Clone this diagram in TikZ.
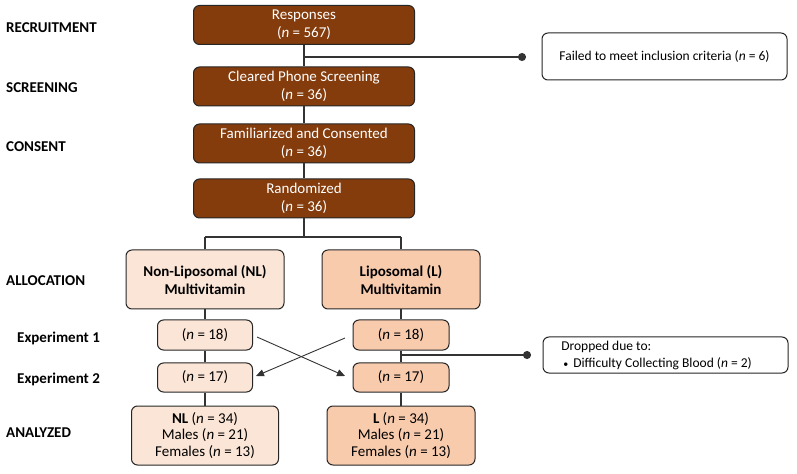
\documentclass[tikz,border=0pt]{standalone}
\usepackage{fontspec}
\setmainfont{Carlito}
\usetikzlibrary{arrows.meta}
\definecolor{brownD}{HTML}{843C0C}
\definecolor{nlc}{HTML}{FBE5D6}
\definecolor{lc}{HTML}{F8CBAD}
\definecolor{linec}{HTML}{333333}
\newcommand{\bodyfont}{\fontsize{15bp}{18bp}\selectfont}
\newcommand{\sidefont}{\fontsize{13.5bp}{17bp}\selectfont}
\newcommand{\capfont}{\fontsize{15bp}{17bp}\selectfont\bfseries}
\newcommand{\nn}{\textit{n}}
\begin{document}
\begin{tikzpicture}[x=1bp,y=-1bp,
  box/.style={rounded corners=6bp, draw=black!85, line width=1bp, align=center, inner sep=0pt, font=\bodyfont},
  dark/.style={box, fill=brownD, text=white, minimum width=221bp, minimum height=39bp},
  nlb/.style={box, fill=nlc},
  lb/.style={box, fill=lc},
  whitebox/.style={box, fill=white, font=\sidefont},
  conn/.style={draw=linec, line width=1.4bp},
  dotconn/.style={conn, -{Circle[length=8bp]}},
  cross/.style={draw=linec, line width=0.9bp, -{Triangle[length=8bp,width=7bp]}},
  stage/.style={anchor=west, font=\capfont, inner sep=0pt},
  exper/.style={anchor=west, font=\bodyfont\bfseries, inner sep=0pt}
]
\useasboundingbox (0,0) rectangle (797,474);

% stage labels
\node[stage] (s1) at (6,28) {RECRUITMENT};
\node[stage] (s2) at (6,88) {SCREENING};
\node[stage] (s3) at (6,147) {CONSENT};
\node[stage] (s4) at (6,281) {ALLOCATION};
\node[exper] (e1) at (17,338) {Experiment 1};
\node[exper] (e2) at (17,379) {Experiment 2};
\node[stage] (s5) at (6,433) {ANALYZED};

% top column
\node[dark] (resp) at (304,25) {Responses\\(\nn{} = 567)};
\node[dark] (scr) at (304,86.5) {Cleared Phone Screening\\(\nn{} = 36)};
\node[dark] (cons) at (304,143.5) {Familiarized and Consented\\(\nn{} = 36)};
\node[dark] (rand) at (304,198.5) {Randomized\\(\nn{} = 36)};

\node[whitebox, minimum width=245bp, minimum height=47bp] (fail) at (664.5,56.5) {Failed to meet inclusion criteria (\nn{} = 6)};

\draw[conn] (resp.south) -- (scr.north);
\draw[conn] (scr.south) -- (cons.north);
\draw[conn] (cons.south) -- (rand.north);
\coordinate (j1) at (304,57);
\coordinate (d1) at (526,57);
\draw[dotconn] (j1) -- (d1);

% allocation
\node[nlb, font=\bodyfont\bfseries, minimum width=158bp, minimum height=59bp] (nl) at (205,279.5) {Non-Liposomal (NL)\\Multivitamin};
\node[lb, font=\bodyfont\bfseries, minimum width=158bp, minimum height=59bp] (l) at (401,279.5) {Liposomal (L)\\Multivitamin};

\coordinate (jr) at (304,237);
\coordinate (bl) at (205,237);
\coordinate (br) at (401,237);
\draw[conn] (rand.south) -- (jr);
\draw[conn] (bl) -- (br);
\draw[conn] (bl) -- (nl.north);
\draw[conn] (br) -- (l.north);

% experiments
\node[nlb, minimum width=95bp, minimum height=30bp] (nl1) at (205,335) {(\nn{} = 18)};
\node[lb, minimum width=96bp, minimum height=30bp] (l1) at (401,335) {(\nn{} = 18)};
\node[nlb, minimum width=95bp, minimum height=29bp] (nl2) at (205,377.5) {(\nn{} = 17)};
\node[lb, minimum width=96bp, minimum height=29bp] (l2) at (401,377.5) {(\nn{} = 17)};

\draw[conn] (nl.south) -- (nl1.north);
\draw[conn] (l.south) -- (l1.north);
\draw[conn] (nl1.south) -- (nl2.north);
\draw[conn] (l1.south) -- (l2.north);

% cross arrows
\coordinate (c1s) at (257,337);
\coordinate (c1e) at (345,376);
\coordinate (c2s) at (345,338);
\coordinate (c2e) at (256,376);
\draw[cross] (c1s) -- (c1e);
\draw[cross] (c2s) -- (c2e);

% dropped
\node[whitebox, minimum width=245bp, minimum height=36bp, align=left] (drop) at (665.5,355)
  {Dropped due to:\\\hspace*{2bp}\makebox[10bp][l]{\fontsize{10bp}{10bp}\selectfont•}Difficulty Collecting Blood (\nn{} = 2)\hspace*{18bp}};
\coordinate (j2) at (401,355);
\coordinate (d2) at (531,355);
\draw[dotconn] (j2) -- (d2);

% analyzed
\node[nlb, minimum width=147bp, minimum height=59bp, font=\fontsize{15bp}{16.7bp}\selectfont] (nla) at (205,435.5) {\textbf{NL} (\nn{} = 34)\\Males (\nn{} = 21)\\Females (\nn{} = 13)};
\node[lb, minimum width=148bp, minimum height=59bp, font=\fontsize{15bp}{16.7bp}\selectfont] (la) at (401,435.5) {\textbf{L} (\nn{} = 34)\\Males (\nn{} = 21)\\Females (\nn{} = 13)};
\draw[conn] (nl2.south) -- (nla.north);
\draw[conn] (l2.south) -- (la.north);
\end{tikzpicture}
\end{document}
